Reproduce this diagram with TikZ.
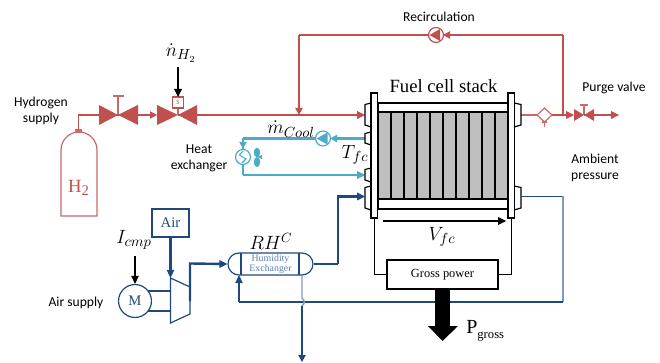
\documentclass[tikz,border=0pt]{standalone}
\usepackage{fontspec}
\usepackage{xcolor}
\setmainfont{Carlito}
\newfontfamily\serifpart{Liberation Serif}
\definecolor{hred}{HTML}{C0504D}
\definecolor{cool}{HTML}{4BACC6}
\definecolor{airb}{HTML}{1F497D}
\definecolor{airl}{HTML}{7F9BBF}
\definecolor{airt}{HTML}{5F7FAF}
\begin{document}
\begin{tikzpicture}[x=0.75pt,y=0.75pt]
\tikzstyle{every node}+=[inner sep=0pt]
\tikzstyle{txtlabel}=[font=\fontsize{10.2}{12}\selectfont,align=center]
\tikzstyle{bigsym}=[font=\fontsize{15}{18}\selectfont,black]
\tikzstyle{hline}=[draw=hred,line width=1.8pt]
\tikzstyle{hthin}=[draw=hred!85,line width=0.9pt]
\tikzstyle{cline}=[draw=cool,line width=1.7pt]
\tikzstyle{aline}=[draw=airb,line width=1.8pt]
\tikzstyle{athin}=[draw=airb,line width=0.9pt]
\tikzstyle{stack}=[draw=black,line width=1.1pt]
\useasboundingbox (0,0) rectangle (660,-363);
\coordinate (neck) at (78.5,-130);
\coordinate (bend) at (78.5,-115);
\coordinate (v1) at (118,-115);
\coordinate (v2) at (178,-115);
\coordinate (mix) at (299,-115);
\coordinate (top1) at (299,-35);
\coordinate (top2) at (563,-35);
\coordinate (tee) at (563,-115);
\coordinate (inlet) at (365,-115);
\coordinate (outlet) at (521,-115);
\coordinate (v3) at (584,-115);
\coordinate (purge) at (619,-115);
\coordinate (cout) at (365,-138.5);
\coordinate (cin) at (365,-175);
\coordinate (cc1) at (243,-138.5);
\coordinate (cc2) at (243,-175);
\coordinate (ain) at (365,-196.5);
\coordinate (aout) at (521,-196.5);
\coordinate (acorner) at (563,-196.5);
\coordinate (alow) at (563,-302);
\coordinate (aret) at (239,-302);
\coordinate (aup) at (338,-264);
\coordinate (aup2) at (338,-196.5);
\coordinate (cmpout) at (190,-301);
\coordinate (cmpup) at (190,-263.5);
\coordinate (cmpin) at (170.5,-278);
\coordinate (vstart) at (383,-221);
\coordinate (vend) at (506,-221);
\coordinate (wirel) at (374.5,-218);
\coordinate (wirer) at (511.5,-218);
\coordinate (pbase) at (442.5,-326);
\coordinate (ndot) at (178,-67);
\coordinate (ntip) at (178,-97);
\coordinate (itop) at (135,-256);
\coordinate (exh1) at (302,-275);
\coordinate (exh2) at (302,-298);
\coordinate (exh3) at (302,-306);
\coordinate (exh4) at (302,-362);
\coordinate (rettip) at (239,-275);
\draw [hthin,fill=white] (61,-216) -- (61,-150) arc (180:0:18) -- (97,-216) -- cycle;
\draw [hthin,fill=white] (76,-132) rectangle (81,-130);
\draw (78.5,-188) node (htwo) [text=hred,font=\fontsize{14}{18}\selectfont\serifpart] {H\raisebox{-0.3ex}{\fontsize{11}{14}\selectfont 2}};
\draw (41,-111) node (hsupply) [txtlabel,text=black] {Hydrogen\\supply};
\draw [draw=hred,line width=1.3pt] (neck) -- (bend) -- (v1);
\fill [hred] (v1) -- (99,-105) -- (99,-125) -- cycle;
\fill [hred] (v1) -- (138,-105) -- (138,-125) -- cycle;
\draw [hthin] (v1) -- (118,-96);
\draw [hthin] (113,-96) -- (124,-96);
\draw [hline,shorten >=3] (v1) -- (157,-115);
\fill [hred] (157,-115) -- ++(-7,3.8) -- ++(0,-7.6) -- cycle;
\fill [hred] (v2) -- (157,-105) -- (157,-125) -- cycle;
\fill [hred] (v2) -- (197,-105) -- (197,-125) -- cycle;
\draw [hthin] (v2) -- (178,-108);
\draw (178,-102.5) node (sol) [draw=hred,line width=0.9pt,fill=white,minimum size=8.2pt,text=hred,font=\fontsize{5}{6}\selectfont] {S};
\draw [hline,shorten >=3] (v2) -- (inlet);
\fill [hred] (inlet) -- ++(-8,4) -- ++(0,-8) -- cycle;
\draw [hline] (top2) -- (tee);
\draw [hline,shorten >=3] (top2) -- (443,-35);
\fill [hred] (443,-35) -- ++(7,3.8) -- ++(0,-7.6) -- cycle;
\draw (436,-35) node (rpump) [circle,draw=hred,line width=0.9pt,fill=white,minimum size=11.2pt] {};
\fill [hred] (429.5,-35) -- (440,-29) -- (440,-41) -- cycle;
\draw [hline] (rpump) -- (top1);
\draw [hline,shorten >=3] (top1) -- (mix);
\fill [hred] (mix) -- ++(-3.8,7) -- ++(7.6,0) -- cycle;
\draw [hthin] (outlet) -- (537,-115);
\draw [hthin,fill=white] (537,-115) -- (544.5,-108) -- (552,-115) -- (544.5,-122) -- cycle;
\draw [hthin] (544.5,-122) -- (544.5,-127);
\draw [hthin] (542,-122) -- (547,-122);
\draw [hline,shorten >=3] (552,-115) -- (574,-115);
\fill [hred] (574,-115) -- ++(-8,4) -- ++(0,-8) -- cycle;
\fill [hred] (v3) -- (574,-109) -- (574,-121) -- cycle;
\fill [hred] (v3) -- (594,-109) -- (594,-121) -- cycle;
\draw [hthin] (v3) -- (584,-105);
\draw [hthin] (580,-105) -- (588,-105);
\draw [hline,shorten >=3] (v3) -- (purge);
\fill [hred] (purge) -- ++(-8,4) -- ++(0,-8) -- cycle;
\draw [cline,shorten >=3] (cout) -- (330,-138.5);
\fill [cool] (330,-138.5) -- ++(7,3.8) -- ++(0,-7.6) -- cycle;
\draw (323,-138.5) node (cpump) [circle,draw=cool,line width=0.9pt,fill=white,minimum size=11.2pt] {};
\fill [cool] (316.5,-138.5) -- (327.5,-132.5) -- (327.5,-144.5) -- cycle;
\draw [cline] (cpump) -- (cc1);
\draw (243,-157) node (hex) [circle,draw=cool,line width=0.9pt,fill=white,minimum size=11.2pt] {};
\draw [cool,line width=0.8pt] (243,-151) -- (239.5,-155) -- (246,-159) -- (242,-163);
\draw [cline] (cc1) -- (hex.north);
\fill [cool] (hex.north) -- ++(-3.8,7) -- ++(7.6,0) -- cycle;
\draw [cline] (hex.south) -- (cc2);
\draw [cline,shorten >=3] (cc2) -- (cin);
\fill [cool] (cin) -- ++(-8,4) -- ++(0,-8) -- cycle;
\fill [cool] (257,-152.5) ellipse (3.2 and 4.8);
\fill [cool] (257,-162) ellipse (3.2 and 5);
\fill [cool] (257,-157) -- (262,-155) -- (262,-159) -- cycle;
\draw (199,-158.5) node (hexlabel) [txtlabel,text=black] {Heat\\exchanger};
\draw (291,-129) node (mlabel) [bigsym] {$\dot{m}_{Cool}$};
\draw (355,-155) node (tlabel) [bigsym] {$T_{fc}$};
\draw (181,-53) node (nlabel) [bigsym] {$\dot{n}_{H_2}$};
\draw [black,line width=1.5pt,shorten >=3] (ndot) -- (ntip);
\fill [black] (ntip) -- ++(-4,8) -- ++(8,0) -- cycle;
\draw (439,-17) node (rlabel) [txtlabel] {Recirculation};
\draw (614,-88) node (plabel) [txtlabel] {Purge valve};
\draw (595,-168) node (alabel) [txtlabel] {Ambient\\pressure};
\draw (443.5,-86) node (stacklabel) [font=\fontsize{14}{16}\selectfont\serifpart] {Fuel cell stack};
\fill [gray!50] (378,-112) rectangle (508,-199);
\foreach \x in {1,...,9}
  \draw [stack] (378+13*\x,-112) -- (378+13*\x,-199);
\draw [stack,fill=white] (378,-103) rectangle (508,-112);
\draw [stack] (378,-112) rectangle (508,-199);
\draw [stack,fill=white] (378,-199) rectangle (508,-209);
\foreach \t/\b in {103/127,132/145,168/182,186/210}
  \draw [black,line width=0.9pt,fill=white] (371,-\t) -- (365,-\t-1.5) -- (365,-\b+2) -- (371,-\b) -- cycle;
\foreach \t/\b in {103/127,186/210}
  \draw [black,line width=0.9pt,fill=white] (514,-\t) -- (521,-\t-1.5) -- (521,-\b+2) -- (514,-\b) -- cycle;
\draw [stack,fill=white] (371,-93) rectangle (377.5,-218);
\draw [stack,fill=white] (508,-93) rectangle (514.5,-218);
\draw [black,line width=1.5pt,shorten >=3] (vstart) -- (vend);
\fill [black] (vend) -- ++(-8,4) -- ++(0,-8) -- cycle;
\draw (442,-237) node (vlabel) [bigsym] {$V_{fc}$};
\draw (442.5,-274.5) node (power) [draw=black,line width=0.9pt,minimum width=83.25pt,minimum height=21.7pt,font=\fontsize{9.3}{10}\selectfont\serifpart] {Gross power};
\draw [black,line width=0.9pt] (wirel) |- (power.west);
\draw [black,line width=0.9pt] (wirer) |- (power.east);
\draw [airb,line width=1.1pt] (aout) -- (acorner);
\draw [airl,line width=1.1pt] (acorner) -- (alow);
\draw [airb,line width=1.4pt] (alow) -- (aret);
\draw [aline,shorten >=3] (aret) -- (rettip);
\fill [airb] (rettip) -- ++(-3.8,-8) -- ++(7.6,0) -- cycle;
\draw [black,line width=11.25pt] (power.south) -- (pbase);
\fill [black] (442.5,-341) -- (428,-326) -- (458,-326) -- cycle;
\draw (466,-331) node (pgross) [anchor=west,font=\fontsize{15}{18}\selectfont\serifpart] {P\raisebox{-0.5ex}{\fontsize{9.5}{12}\selectfont gross}};
\draw (170.5,-223) node (airbox) [draw=airb,line width=0.9pt,minimum width=27.7pt,minimum height=21pt,text=airb,font=\fontsize{11}{13}\selectfont\serifpart] {Air};
\draw [aline,shorten >=3] (airbox.south) -- (cmpin);
\fill [airb] (170.5,-278) -- ++(-3.8,8) -- ++(7.6,0) -- cycle;
\draw [athin,fill=white] (170.5,-278) -- (190,-287) -- (190,-314) -- (170.5,-323) -- cycle;
\draw (135,-301) node (motor) [circle,draw=airb,line width=0.9pt,minimum size=24.7pt,text=airb,font=\fontsize{11}{13}\selectfont\serifpart] {M};
\draw [athin] (148,-291) -- (170.5,-291);
\draw [athin] (148,-311) -- (170.5,-311);
\draw (76,-303) node (airsupply) [txtlabel] {Air supply};
\draw (134,-240) node (ilabel) [bigsym] {$I_{cmp}$};
\draw [black,line width=1.2pt,shorten >=3] (itop) -- (motor.north);
\fill [black] (motor.north) -- ++(-3.8,8) -- ++(7.6,0) -- cycle;
\draw (270.5,-264) node (humex) [draw=airb,line width=0.9pt,rounded corners=8.2pt,minimum width=63.7pt,minimum height=16.5pt,text=airt,align=center,font=\fontsize{7.4}{8}\selectfont\serifpart] {Humidity\\Exchanger};
\draw [athin] (241,-253) -- (241,-275);
\draw [athin] (299,-253) -- (299,-275);
\draw (271,-241) node (rhlabel) [font=\fontsize{14.5}{18}\selectfont] {$RH^{C}$};
\draw [aline,shorten >=3] (cmpout) -- (cmpup) -- (humex.west);
\fill [airb] (humex.west) -- ++(-8,4) -- ++(0,-8) -- cycle;
\draw [aline] (humex.east) -- (aup);
\draw [aline,shorten >=3] (aup) -- (aup2) -- (ain);
\fill [airb] (ain) -- ++(-8,4) -- ++(0,-8) -- cycle;
\draw [airl,line width=1.1pt] (exh1) -- (exh2) .. controls (305,-300) and (305,-304) .. (exh3);
\draw [aline,shorten >=3] (exh3) -- (exh4);
\fill [airb] (exh4) -- ++(-3.8,7) -- ++(7.6,0) -- cycle;
\end{tikzpicture}
\end{document}
